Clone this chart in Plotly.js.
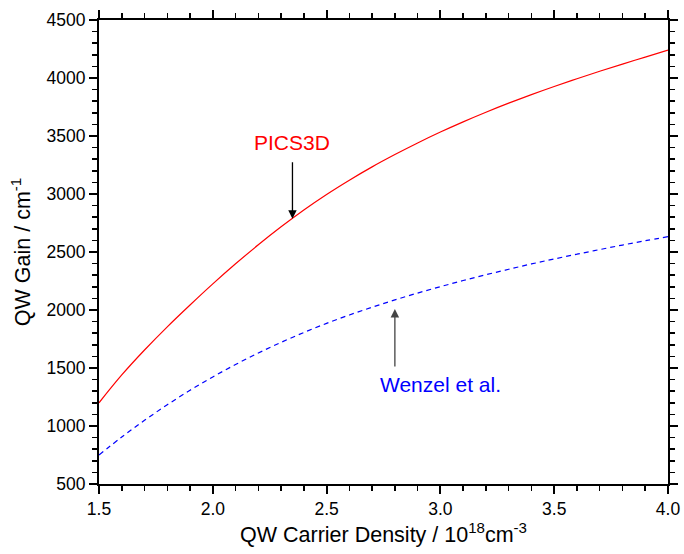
<!DOCTYPE html>
<html>
<head>
<meta charset="utf-8">
<script src="https://cdn.plot.ly/plotly-3.0.1.min.js"></script>
<style>html,body{margin:0;padding:0;background:#fff;}#chart{width:684px;height:554px;}</style>
</head>
<body>
<div id="chart"></div>
<script>
const density = [1.5,1.6,1.7,1.8,1.9,2.0,2.1,2.2,2.3,2.4,2.5,2.6,2.7,2.8,2.9,3.0,3.1,3.2,3.3,3.4,3.5,3.6,3.7,3.8,3.9,4.0];
const pics3dGain = [1200,1440,1655,1855,2043,2225,2398,2562,2717,2862,2996,3119,3234,3340,3440,3534,3622,3705,3783,3857,3927,3994,4058,4120,4180,4240];
const wenzelGain = [750,905,1049,1183,1308,1423,1530,1629,1721,1806,1885,1957,2024,2087,2146,2201,2254,2304,2351,2397,2440,2481,2521,2560,2597,2632];
const seriesNames = ["PICS3D", "Wenzel et al."];

const FONT = "'Liberation Sans', Arial, sans-serif";

const traces = [
  {x: density, y: pics3dGain, name: seriesNames[0], mode: 'lines', line: {color: '#ff0000', width: 1.2, shape: 'spline'}},
  {x: density, y: wenzelGain, name: seriesNames[1], mode: 'lines', line: {color: '#0000ff', width: 1.2, dash: '5px,4px', shape: 'spline'}}
];

const axisCommon = {
  showline: true, linecolor: '#000', linewidth: 2, mirror: 'allticks',
  ticks: 'outside', ticklen: 8, tickwidth: 2, tickcolor: '#000',
  showgrid: false, zeroline: false,
  tickfont: {family: FONT, size: 17.5, color: '#000'}
};

const layout = {
  width: 684, height: 554,
  margin: {l: 99, r: 16, t: 20, b: 70},
  paper_bgcolor: '#fff', plot_bgcolor: '#fff',
  showlegend: false,
  font: {family: FONT, color: '#000'},
  xaxis: Object.assign({}, axisCommon, {
    range: [1.5, 4.0], dtick: 0.5, tick0: 1.5, tickformat: '.1f',
    minor: {dtick: 0.1, ticks: 'outside', ticklen: 5, tickwidth: 1.5, tickcolor: '#000'},
    title: {text: 'QW Carrier Density / 10<sup>18</sup>cm<sup>-3</sup>', font: {family: FONT, size: 21.5, color: '#000'}, standoff: 8}
  }),
  yaxis: Object.assign({}, axisCommon, {
    range: [500, 4500], dtick: 500, tick0: 500,
    minor: {dtick: 100, ticks: 'outside', ticklen: 5, tickwidth: 1.5, tickcolor: '#000'},
    title: {text: 'QW Gain / cm<sup>-1</sup>', font: {family: FONT, size: 21.5, color: '#000'}, standoff: 10}
  }),
  annotations: [
    {x: 2.35, y: 3448, xref: 'x', yref: 'y', text: seriesNames[0], showarrow: false,
     font: {family: FONT, size: 21, color: '#ff0000'}},
    {x: 2.35, y: 2787, xref: 'x', yref: 'y', text: '', showarrow: true,
     arrowhead: 2, arrowsize: 1.3, arrowwidth: 1.3, arrowcolor: '#000', ax: 0, ay: -58, standoff: 0},
    {x: 3.0, y: 1362, xref: 'x', yref: 'y', text: seriesNames[1], showarrow: false,
     font: {family: FONT, size: 21, color: '#0000ff'}},
    {x: 2.8, y: 2009, xref: 'x', yref: 'y', text: '', showarrow: true,
     arrowhead: 2, arrowsize: 1.3, arrowwidth: 1.3, arrowcolor: '#444', ax: 0, ay: 59, standoff: 0}
  ]
};

Plotly.newPlot('chart', traces, layout, {displayModeBar: false, staticPlot: true});
</script>
</body>
</html>
